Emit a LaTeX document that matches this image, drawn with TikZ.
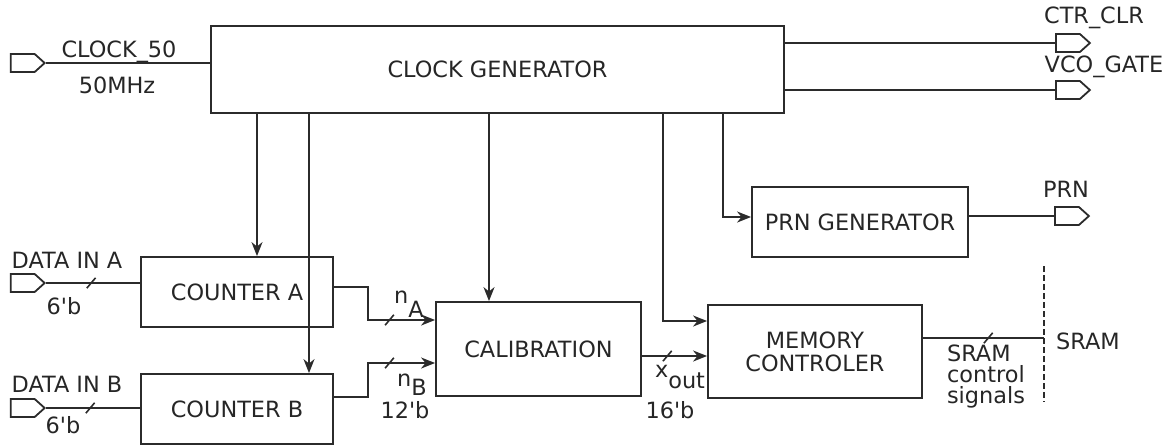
\documentclass[tikz,border=0pt]{standalone}
\usepackage{fontspec}
\setmainfont{DejaVu Sans}
\usepackage{xcolor}
\usetikzlibrary{arrows.meta,shapes.symbols,positioning}
\definecolor{wiregray}{HTML}{2B2B2B}
\definecolor{labelgray}{HTML}{262626}

\begin{document}
\begin{tikzpicture}[x=0.5pt,y=-0.5pt,>={Stealth[length=7pt,width=5.5pt,inset=2.2pt]},
  every node/.style={font=\fontsize{11.2pt}{11.5pt}\selectfont,text=labelgray},
  block/.style={draw=wiregray,line width=0.9pt,inner sep=0pt},
  port/.style={draw=wiregray,line width=0.9pt,signal,signal to=east,signal pointer angle=84,
    minimum width=17pt,minimum height=9pt,inner sep=0pt},
  wire/.style={wiregray,line width=0.9pt},
  busslash/.pic={\draw[wiregray,arrows=-,line width=0.8pt] (-2.2pt,-2.6pt) -- (2.2pt,2.6pt);}]
  \useasboundingbox (0,0) rectangle (1169,447);
  \node[block,minimum width=286.5pt,minimum height=43.5pt] (clkgen) at (497.5,69.5) {CLOCK GENERATOR};
  \node[block,minimum width=96pt,minimum height=35pt] (cntA) at (237,292) {COUNTER A};
  \node[block,minimum width=96pt,minimum height=35pt] (cntB) at (237,409) {COUNTER B};
  \node[block,minimum width=102.5pt,minimum height=47pt] (calib) at (538.5,349) {CALIBRATION};
  \node[block,minimum width=107pt,minimum height=46.5pt,align=center] (memctl) at (815,351.5) {MEMORY\\CONTROLER};
  \node[block,minimum width=108pt,minimum height=35pt] (prngen) at (860,222) {PRN GENERATOR};
  \node[port,anchor=east] (clkin) at (46,63) {};
  \node[port,anchor=east] (dinA) at (46,283) {};
  \node[port,anchor=east] (dinB) at (46,408) {};
  \node[port,anchor=west] (ctrclr) at (1055,43) {};
  \node[port,anchor=west] (vcogate) at (1055,90) {};
  \node[port,anchor=west] (prnout) at (1054,216) {};
  \node[anchor=base] (clklbl) at (119,57) {CLOCK\_50};
  \node[anchor=base] (clkfreq) at (117,93) {50MHz};
  \node[anchor=base] (dinAlbl) at (67,268) {DATA IN A};
  \node[anchor=base] (dinAw) at (64,314) {6\textquotesingle b};
  \node[anchor=base] (dinBlbl) at (67,392) {DATA IN B};
  \node[anchor=base] (dinBw) at (63,433) {6\textquotesingle b};
  \node[anchor=base west] (nAlbl) at (387,303) {n\raisebox{-7pt}{A}};
  \node[anchor=base west] (nBlbl) at (390,386) {n\raisebox{-4.5pt}{B}};
  \node[anchor=base] (nBw) at (405,418) {12\textquotesingle b};
  \node[anchor=base west] (xoutlbl) at (648,377) {x\raisebox{-5.5pt}{out}};
  \node[anchor=base] (xoutw) at (670,418) {16\textquotesingle b};
  \node[anchor=west,align=left,font=\fontsize{11.2pt}{10.5pt}\selectfont] (sramsig) at (940,377) {SRAM\\control\\signals};
  \node[anchor=base] (sramlbl) at (1088,349) {SRAM};
  \node[anchor=base] (ctrlbl) at (1094,23) {CTR\_CLR};
  \node[anchor=base] (vcolbl) at (1104,72) {VCO\_GATE};
  \node[anchor=base] (prnlbl) at (1066,197) {PRN};
  \coordinate (tapA) at (257,113);
  \coordinate (tapB) at (309,113);
  \coordinate (tapC) at (489,113);
  \coordinate (tapM) at (663,113);
  \coordinate (tapP) at (723,113);
  \coordinate (busTop) at (1044,266);
  \coordinate (busBot) at (1044,402);
  \draw[wire] (clkin.east) -- (clkin.east -| clkgen.west);
  \draw[wire] (clkgen.east |- ctrclr.west) -- (ctrclr.west);
  \draw[wire] (clkgen.east |- vcogate.west) -- (vcogate.west);
  \draw[wire] (prngen.east |- prnout.west) -- (prnout.west);
  \draw[wire,->] (tapA) -- (tapA |- cntA.north);
  \draw[wire,->] (tapB) -- (tapB |- cntB.north);
  \draw[wire,->] (tapC) -- (tapC |- calib.north);
  \draw[wire,->] (tapM) |- ([yshift=15.25pt]memctl.west);
  \draw[wire,->] (tapP) |- ([yshift=2.5pt]prngen.west);
  \draw[wire] (dinA.east) -- (dinA.east -| cntA.west) pic[pos=0.48]{busslash};
  \draw[wire] (dinB.east) -- (dinB.east -| cntB.west) pic[pos=0.47]{busslash};
  \draw[wire,->] ([yshift=2.5pt]cntA.east) -| (368,320) -- ([yshift=14.5pt]calib.west) pic[pos=0.32]{busslash};
  \draw[wire,->] ([yshift=6pt]cntB.east) -| (368,363) -- ([yshift=-7pt]calib.west) pic[pos=0.32]{busslash};
  \draw[wire,->] ([yshift=-3.5pt]calib.east) -- ([yshift=-3.5pt]calib.east -| memctl.west) pic[pos=0.39]{busslash};
  \draw[wire] ([yshift=6.75pt]memctl.east) -- ([yshift=6.75pt]memctl.east -| busTop) pic[pos=0.54]{busslash};
  \draw[wire,dash pattern=on 3pt off 1.5pt] (busTop) -- (busBot);
\end{tikzpicture}
\end{document}
